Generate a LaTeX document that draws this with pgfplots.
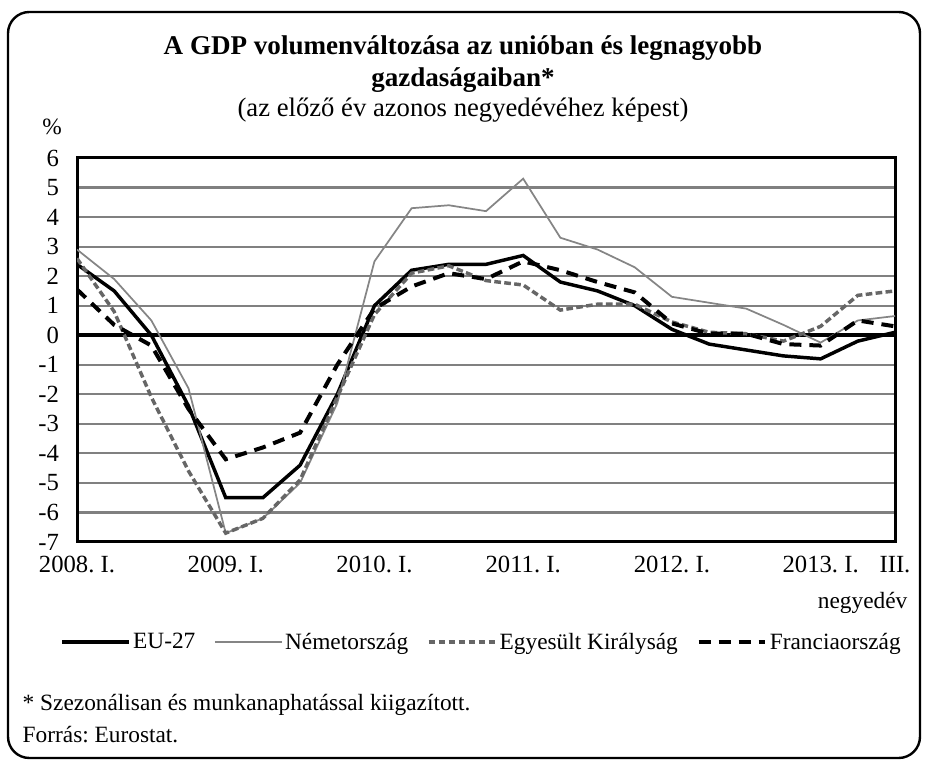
\documentclass[border=0pt]{standalone}
\usepackage{fontspec}
\setmainfont{Liberation Serif}
\usepackage{pgfplots}
\pgfplotsset{compat=1.18}
\frenchspacing

\newcommand{\lbl}{\fontsize{17.5}{20}\selectfont}
\newcommand{\tlbl}{\fontsize{18.5}{21}\selectfont}

\begin{document}
\begin{tikzpicture}[x=0.75pt,y=0.75pt]
\useasboundingbox (0,0) rectangle (925,764);
% frame
\draw[line width=1.8pt, rounded corners=16pt] (8,6) rectangle (920,752);

% titles
\node[font=\bfseries\fontsize{20.3}{24}\selectfont, align=center] at (463,700)
  {A GDP volumenváltozása az unióban és legnagyobb\\gazdaságaiban*};
\node[font=\fontsize{20}{22}\selectfont] at (463,654)
  {(az előző év azonos negyedévéhez képest)};
\node[font=\lbl] at (52,637) {\%};

\begin{axis}[
  at={(57.75pt,166.5pt)}, anchor=south west,
  scale only axis,
  width=613.5pt, height=288pt,
  xmin=0, xmax=22, ymin=-7, ymax=6,
  xtick={0,4,8,12,16,20,22},
  xticklabels={2008. I.,2009. I.,2010. I.,2011. I.,2012. I.,2013. I.,III.},
  ytick={-7,-6,-5,-4,-3,-2,-1,0,1,2,3,4,5,6},
  /pgf/number format/assume math mode=true,
  tick label style={font=\tlbl},
  yticklabel style={xshift=-10pt},
  xticklabel style={yshift=-7pt},
  major tick length=0pt,
  ymajorgrids,
  major grid style={black!50, line width=1.6pt},
  axis line style={line width=2.25pt},
  legend columns=4,
  legend cell align=left,
  legend style={at={(0.495,-0.2604)}, anchor=center, draw=none, fill=none,
    font=\lbl, inner sep=0pt,
    /tikz/every even column/.append style={column sep=12pt}},
  legend image code/.code={\draw[#1] (0pt,0pt) -- (50pt,0pt);},
]
\draw[black, line width=2.6pt] (axis cs:0,0) -- (axis cs:22,0);

% EU-27
\addplot[black, line width=2.6pt] coordinates {
  (0,2.4) (1,1.5) (2,0.0) (3,-2.4) (4,-5.5) (5,-5.5) (6,-4.4) (7,-2.0)
  (8,1.0) (9,2.2) (10,2.4) (11,2.4) (12,2.7) (13,1.8) (14,1.5) (15,1.0)
  (16,0.2) (17,-0.3) (18,-0.5) (19,-0.7) (20,-0.8) (21,-0.2) (22,0.1)
};
% Nemetorszag
\addplot[black!48, line width=1.3pt] coordinates {
  (0,2.9) (1,1.9) (2,0.5) (3,-1.8) (4,-6.7) (5,-6.2) (6,-5.0) (7,-2.3)
  (8,2.5) (9,4.3) (10,4.4) (11,4.2) (12,5.3) (13,3.3) (14,2.9) (15,2.3)
  (16,1.3) (17,1.1) (18,0.9) (19,0.35) (20,-0.25) (21,0.5) (22,0.65)
};
% Egyesult Kiralysag
\addplot[black!60, line width=2.6pt, dash pattern=on 5pt off 2.5pt] coordinates {
  (0,2.6) (1,0.8) (2,-2.1) (3,-4.6) (4,-6.7) (5,-6.2) (6,-4.9) (7,-2.1)
  (8,0.7) (9,2.1) (10,2.35) (11,1.85) (12,1.7) (13,0.85) (14,1.05) (15,1.05)
  (16,0.45) (17,0.1) (18,0.05) (19,-0.2) (20,0.3) (21,1.35) (22,1.5)
};
% Franciaorszag
\addplot[black, line width=3pt, dash pattern=on 9pt off 6pt] coordinates {
  (0,1.55) (1,0.35) (2,-0.35) (3,-2.5) (4,-4.2) (5,-3.8) (6,-3.3) (7,-1.0)
  (8,0.9) (9,1.65) (10,2.1) (11,1.9) (12,2.5) (13,2.2) (14,1.8) (15,1.45)
  (16,0.4) (17,0.05) (18,0.05) (19,-0.3) (20,-0.35) (21,0.5) (22,0.3)
};
\legend{EU-27, Németország, Egyesült Királyság, Franciaország}
\end{axis}

\node[font=\lbl, anchor=east] at (912,161) {negyedév};
\node[font=\lbl, anchor=west] at (18,59) {* Szezonálisan és munkanaphatással kiigazított.};
\node[font=\lbl, anchor=west] at (18,29) {Forrás: Eurostat.};
\end{tikzpicture}
\end{document}
